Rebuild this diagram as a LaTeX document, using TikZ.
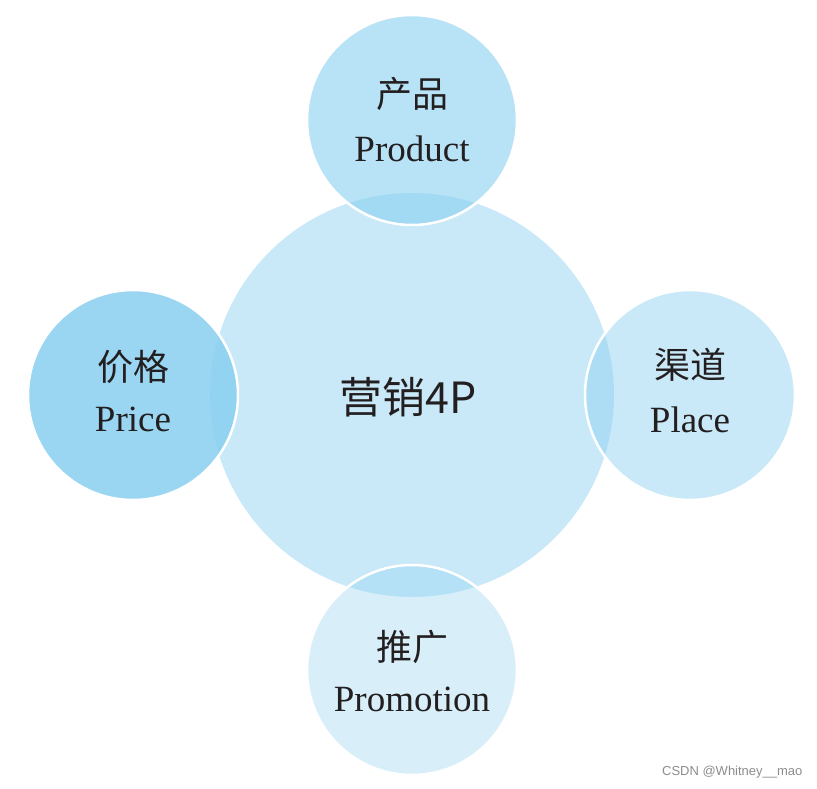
\documentclass[tikz,border=0pt]{standalone}
\usepackage{fontspec}
\setmainfont{Liberation Serif}
\newfontfamily\cjk{Noto Sans CJK SC}
\definecolor{pblue}{RGB}{137,207,240}
\definecolor{ink}{RGB}{35,31,32}

\begin{document}
\begin{tikzpicture}[x=1pt, y=-1pt,
    ball/.style={circle, minimum size=#1, inner sep=0pt, fill=pblue, draw=white, line width=2.5pt},
    cnname/.style={text=ink, font=\cjk\fontsize{36}{42}\selectfont, inner sep=0pt},
    enname/.style={text=ink, font=\fontsize{37}{44}\selectfont, inner sep=0pt, anchor=base},
    hubname/.style={text=ink, font=\cjk\fontsize{43}{50}\selectfont, inner sep=0pt}]

  %% ════ 圆（先画中心，四周叠在上面）════
  \node[ball=404, fill opacity=.46, draw=none] (hub) at (412,395) {};
  \node[ball=210, fill opacity=.60] (prod)  at (412,120) {};
  \node[ball=210, fill opacity=.86] (price) at (133,395) {};
  \node[ball=210, fill opacity=.46] (place) at (690,395) {};
  \node[ball=210, fill opacity=.33] (promo) at (412,670) {};

  %% ════ 文字 ════
  \node[hubname] (hubtxt) at ([xshift=-4pt,yshift=-2pt]hub.center) {营销4P};

  \node[cnname] (prodcn)  at ([yshift=26pt]prod.center)  {产品};
  \node[enname] (proden)  at ([yshift=-42pt]prod.center) {Product};

  \node[cnname] (pricecn) at ([yshift=28pt]price.center)  {价格};
  \node[enname] (priceen) at ([yshift=-36pt]price.center) {Price};

  \node[cnname] (placecn) at ([yshift=30pt]place.center)  {渠道};
  \node[enname] (placeen) at ([yshift=-37pt]place.center) {Place};

  \node[cnname] (promocn) at ([yshift=23pt]promo.center)  {推广};
  \node[enname] (promoen) at ([yshift=-41pt]promo.center) {Promotion};

  % 水印
  \node[text=black!45, font=\fontspec{Liberation Sans}\fontsize{13}{15}\selectfont, anchor=east] (mark) at (806,772) {CSDN @Whitney\_\_mao};

  \pgfresetboundingbox
  \path[use as bounding box] (0,0) rectangle (817,789);
\end{tikzpicture}
\end{document}
